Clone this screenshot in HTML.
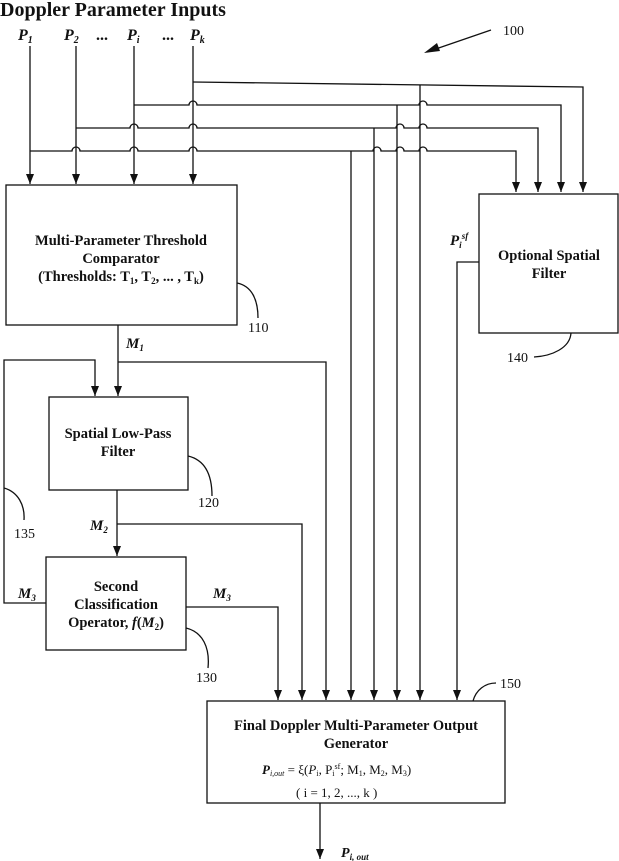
<!DOCTYPE html>
<html><head><meta charset="utf-8"><style>
html,body{margin:0;padding:0;background:#fff}
svg{display:block}
text{font-family:"Liberation Serif",serif;fill:#111}
.b{font-weight:bold;font-size:14.5px}
.i{font-style:italic;font-weight:bold}
</style></head><body>
<svg width="619" height="861" viewBox="0 0 619 861" xmlns="http://www.w3.org/2000/svg">
<defs>
<marker id="d" markerWidth="8" markerHeight="10" refX="4" refY="10" markerUnits="userSpaceOnUse" viewBox="0 0 8 10">
<path d="M0,0 L8,0 L4,10 Z" fill="#111"/></marker>
</defs>
<g stroke="#111" stroke-width="1.3" fill="none">
<path d="M30,46 V184" marker-end="url(#d)"/>
<path d="M76,46 V184" marker-end="url(#d)"/>
<path d="M134,46 V184" marker-end="url(#d)"/>
<path d="M193,46 V184" marker-end="url(#d)"/>
<path d="M193,82 L583,87 V192" marker-end="url(#d)"/>
<path d="M134,105 H189 a4,4 0 0 1 8,0 H419 a4,4 0 0 1 8,0 H561 V192" marker-end="url(#d)"/>
<path d="M76,128 H130 a4,4 0 0 1 8,0 H189 a4,4 0 0 1 8,0 H396 a4,4 0 0 1 8,0 H419 a4,4 0 0 1 8,0 H538 V192" marker-end="url(#d)"/>
<path d="M30,151 H72 a4,4 0 0 1 8,0 H130 a4,4 0 0 1 8,0 H189 a4,4 0 0 1 8,0 H373 a4,4 0 0 1 8,0 H396 a4,4 0 0 1 8,0 H419 a4,4 0 0 1 8,0 H516 V192" marker-end="url(#d)"/>
<path d="M351,151 V700" marker-end="url(#d)"/>
<path d="M374,128 V700" marker-end="url(#d)"/>
<path d="M397,105 V700" marker-end="url(#d)"/>
<path d="M420,85 V700" marker-end="url(#d)"/>
<path d="M479,262 H457 V700" marker-end="url(#d)"/>
<rect x="6" y="185" width="231" height="140"/>
<rect x="479" y="194" width="139" height="139"/>
<rect x="49" y="397" width="139" height="93"/>
<rect x="46" y="557" width="140" height="93"/>
<rect x="207" y="701" width="298" height="102"/>
<path d="M118,325 V396" marker-end="url(#d)"/>
<path d="M118,362 H326 V700" marker-end="url(#d)"/>
<path d="M46,603 H4 V360 H95 V396" marker-end="url(#d)"/>
<path d="M117,490 V556" marker-end="url(#d)"/>
<path d="M117,524 H302 V700" marker-end="url(#d)"/>
<path d="M186,607 H278 V700" marker-end="url(#d)"/>
<path d="M320,803 V859" marker-end="url(#d)"/>
<path d="M237,283 C252,286 258,300 258,318"/>
<path d="M188,456 C205,460 212,475 212,496"/>
<path d="M186,628 C203,632 210,648 208,668"/>
<path d="M4,488 C18,492 25,505 24,520"/>
<path d="M571,333 C570,348 552,356 534,357"/>
<path d="M473,701 C476,690 485,683 496,683"/>
<path d="M491,30 L427,52"/>
</g>
<path d="M424,53 L437,43 L440,51 Z" fill="#111"/>
<text x="0" y="16" style="font-weight:bold;font-size:20px">Doppler Parameter Inputs</text>
<g class="i" font-size="16">
<text x="18" y="40">P<tspan font-size="10" dy="3">1</tspan></text>
<text x="64" y="40">P<tspan font-size="10" dy="3">2</tspan></text>
<text x="96" y="40" font-style="normal">...</text>
<text x="127" y="40">P<tspan font-size="10" dy="3">i</tspan></text>
<text x="162" y="40" font-style="normal">...</text>
<text x="190" y="40">P<tspan font-size="10" dy="3">k</tspan></text>
</g>
<text x="503" y="35" font-size="14">100</text>
<text class="b" x="121" y="245" text-anchor="middle">Multi-Parameter Threshold</text>
<text class="b" x="121" y="263" text-anchor="middle">Comparator</text>
<text class="b" x="121" y="281" text-anchor="middle">(Thresholds: T<tspan font-size="9" dy="3">1</tspan><tspan dy="-3">, T</tspan><tspan font-size="9" dy="3">2</tspan><tspan dy="-3">, ... , T</tspan><tspan font-size="9" dy="3">k</tspan><tspan dy="-3">)</tspan></text>
<text x="248" y="332" font-size="14">110</text>
<text class="b" x="549" y="260" text-anchor="middle">Optional Spatial</text>
<text class="b" x="549" y="278" text-anchor="middle">Filter</text>
<text x="450" y="245" class="i" font-size="15">P<tspan font-size="9" dy="3">i</tspan><tspan font-size="9" dy="-9">sf</tspan></text>
<text x="507" y="362" font-size="14">140</text>
<text x="126" y="348" class="i" font-size="15">M<tspan font-size="9" dy="3">1</tspan></text>
<text class="b" x="118" y="438" text-anchor="middle">Spatial Low-Pass</text>
<text class="b" x="118" y="456" text-anchor="middle">Filter</text>
<text x="198" y="507" font-size="14">120</text>
<text x="14" y="538" font-size="14">135</text>
<text x="90" y="530" class="i" font-size="15">M<tspan font-size="9" dy="3">2</tspan></text>
<text class="b" x="116" y="591" text-anchor="middle">Second</text>
<text class="b" x="116" y="609" text-anchor="middle">Classification</text>
<text class="b" x="116" y="627" text-anchor="middle">Operator, <tspan font-style="italic">f</tspan>(<tspan font-style="italic">M</tspan><tspan font-size="9" dy="3">2</tspan><tspan dy="-3">)</tspan></text>
<text x="18" y="598" class="i" font-size="15">M<tspan font-size="9" dy="3">3</tspan></text>
<text x="213" y="598" class="i" font-size="15">M<tspan font-size="9" dy="3">3</tspan></text>
<text x="196" y="682" font-size="14">130</text>
<text x="500" y="688" font-size="14">150</text>
<text class="b" x="356" y="730" text-anchor="middle">Final Doppler Multi-Parameter Output</text>
<text class="b" x="356" y="748" text-anchor="middle">Generator</text>
<text x="262" y="774" font-size="13"><tspan font-style="italic" font-weight="bold">P</tspan><tspan font-size="8" dy="2" font-style="italic">i,out</tspan><tspan dy="-2"> = ξ(</tspan><tspan font-style="italic">P</tspan><tspan font-size="8" dy="2">i</tspan><tspan dy="-2">, P</tspan><tspan font-size="8" dy="2">i</tspan><tspan font-size="8" dy="-7">sf</tspan><tspan dy="5">; M</tspan><tspan font-size="8" dy="2">1</tspan><tspan dy="-2">, M</tspan><tspan font-size="8" dy="2">2</tspan><tspan dy="-2">, M</tspan><tspan font-size="8" dy="2">3</tspan><tspan dy="-2">)</tspan></text>
<text x="296" y="797" font-size="13">( i = 1, 2, ..., k )</text>
<text x="341" y="857" class="i" font-size="14">P<tspan font-size="9" dy="3">i, out</tspan></text>
</svg>
</body></html>
